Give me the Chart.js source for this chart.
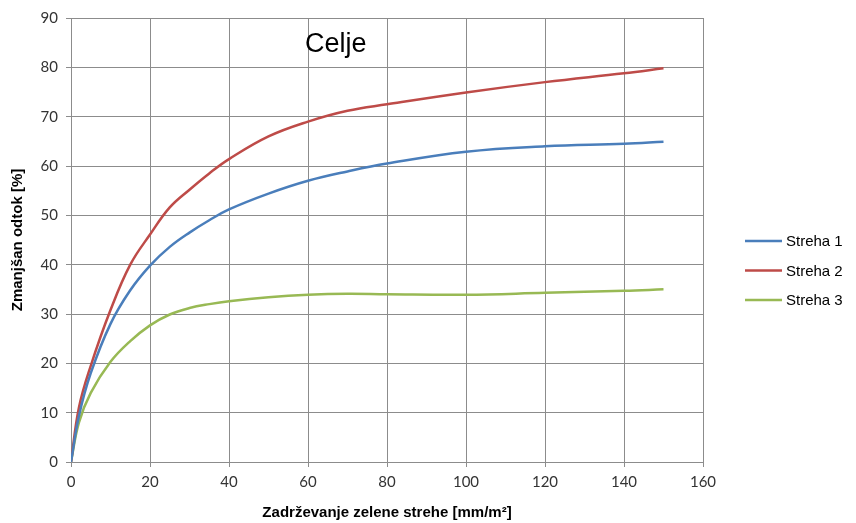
<!DOCTYPE html>
<html>
<head>
<meta charset="utf-8">
<title>Celje</title>
<script src="https://cdn.jsdelivr.net/npm/chart.js@4.4.0/dist/chart.umd.min.js"></script>
<style>
  html, body { margin: 0; padding: 0; background: #fff; }
  #wrap { width: 856px; height: 523px; position: relative; }
</style>
</head>
<body>
<div id="wrap"><canvas id="myChart" width="856" height="523"></canvas></div>
<script>
// values
var xValues = [0, 2, 5, 10, 15, 20, 25, 30, 35, 40, 50, 60, 70, 80, 100, 120, 140, 150];
var streha1 = [0, 9.3, 18, 28, 34.8, 39.8, 43.6, 46.5, 49, 51.2, 54.4, 57, 58.9, 60.5, 62.9, 64.0, 64.5, 64.9];
var streha2 = [0, 11, 19.5, 30.8, 40, 46.1, 51.6, 55.2, 58.5, 61.4, 66, 69, 71.2, 72.5, 74.9, 77.0, 78.8, 79.8];
var streha3 = [0, 8, 14, 20.3, 24.5, 27.7, 29.9, 31.2, 32.0, 32.6, 33.4, 33.9, 34.1, 34.0, 33.9, 34.3, 34.7, 35.0];
var seriesNames = ['Streha 1', 'Streha 2', 'Streha 3'];
var seriesColors = ['#4a7ebb', '#be4b48', '#98b954'];
var chartTitle = 'Celje';
var xTitle = 'Zadrževanje zelene strehe [mm/m²]';
var yTitle = 'Zmanjšan odtok [%]';

function toPoints(ys) {
    return ys.map(function(y, i) { return {x: xValues[i], y: y}; });
}

var seriesData = [streha1, streha2, streha3];
var datasets = seriesData.map(function(ys, i) {
    return {
        label: seriesNames[i],
        data: toPoints(ys),
        borderColor: seriesColors[i],
        backgroundColor: seriesColors[i],
        borderWidth: 2.5,
        pointRadius: 0,
        tension: 0.4,
        fill: false
    };
});

// title inside the plot + legend on the right
var extras = {
    id: 'extras',
    afterDraw: function(chart) {
        var ctx = chart.ctx;
        var area = chart.chartArea;
        ctx.save();
        ctx.fillStyle = '#000';
        ctx.font = '27px "Liberation Sans", Arial, sans-serif';
        ctx.textAlign = 'center';
        ctx.textBaseline = 'middle';
        ctx.fillText(chartTitle, area.left + (area.right - area.left) * 0.419, area.top + 27);

        ctx.font = '15px "Liberation Sans", Arial, sans-serif';
        ctx.textAlign = 'left';
        chart.data.datasets.forEach(function(ds, i) {
            var y = 241 + i * 29.5;
            ctx.strokeStyle = ds.borderColor;
            ctx.lineWidth = 2.5;
            ctx.beginPath();
            ctx.moveTo(745, y);
            ctx.lineTo(782, y);
            ctx.stroke();
            ctx.fillStyle = '#000';
            ctx.fillText(ds.label, 786, y + 1);
        });
        ctx.restore();
    }
};

var ctx = document.getElementById('myChart').getContext('2d');
var chart = new Chart(ctx, {
    type: 'line',
    data: { datasets: datasets },
    plugins: [extras],
    options: {
        responsive: false,
        animation: false,
        layout: { padding: { left: 9, right: 153, top: 18, bottom: 0 } },
        plugins: {
            legend: { display: false },
            tooltip: { enabled: false }
        },
        scales: {
            x: {
                type: 'linear',
                min: 0,
                max: 160,
                ticks: {
                    stepSize: 20,
                    color: '#333',
                    padding: 6,
                    font: { family: 'Lato, "Open Sans", sans-serif', size: 15 }
                },
                grid: { color: '#8c8c8c', tickLength: 5, tickColor: '#8c8c8c' },
                border: { color: '#8c8c8c' },
                title: {
                    display: true,
                    text: xTitle,
                    color: '#000',
                    padding: { top: 2, bottom: 1 },
                    font: { family: '"Liberation Sans", Arial, sans-serif', size: 15, weight: 'bold' }
                },
                afterFit: function(scale) { scale.height = 61; }
            },
            y: {
                min: 0,
                max: 90,
                ticks: {
                    stepSize: 10,
                    color: '#333',
                    padding: 8,
                    font: { family: 'Lato, "Open Sans", sans-serif', size: 15 }
                },
                grid: { color: '#8c8c8c', tickLength: 5, tickColor: '#8c8c8c' },
                border: { color: '#8c8c8c' },
                title: {
                    display: true,
                    text: yTitle,
                    color: '#000',
                    padding: { top: 0, bottom: 0 },
                    font: { family: '"Liberation Sans", Arial, sans-serif', size: 15, weight: 'bold' }
                },
                afterFit: function(scale) { scale.width = 62; }
            }
        }
    }
});
</script>
</body>
</html>
